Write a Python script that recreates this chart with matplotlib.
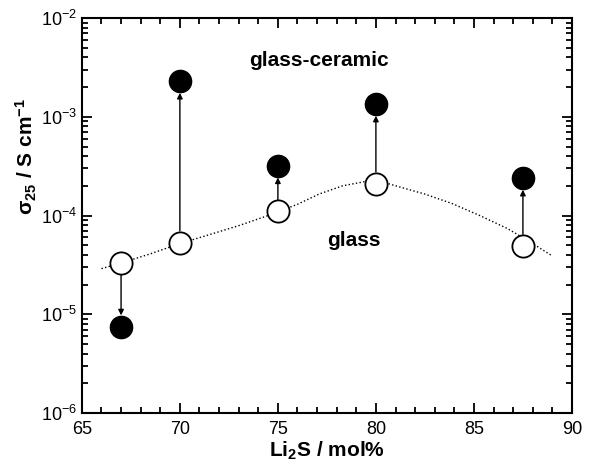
import numpy as np
import matplotlib
matplotlib.use("Agg")
from matplotlib import pyplot as plt
from matplotlib.ticker import MultipleLocator, LogLocator, NullFormatter

plt.rcParams['font.family'] = ['Liberation Sans', 'DejaVu Sans']
plt.rcParams['mathtext.default'] = 'regular'

# Li2S content (mol%)
li2s = [67, 70, 75, 80, 87.5]
# conductivity at 25 C, S/cm
sigma_glass = [3.3e-5, 5.3e-5, 1.1e-4, 2.1e-4, 4.9e-5]
sigma_gc = [7.4e-6, 2.3e-3, 3.2e-4, 1.35e-3, 2.4e-4]

# dotted guide curve through the glass data
curve_x = [66.0, 67.0, 68.5, 70.0, 71.5, 73.0, 74.5, 76.0, 77.1, 78.3, 79.4,
           80.3, 81.2, 82.5, 83.9, 85.3, 86.7, 87.8, 89.0]
curve_y = [2.9e-5, 3.3e-5, 4.1e-5, 5.2e-5, 6.4e-5, 7.9e-5, 1.0e-4, 1.3e-4,
           1.65e-4, 2.0e-4, 2.2e-4, 2.2e-4, 1.95e-4, 1.65e-4, 1.32e-4,
           1.0e-4, 7.4e-5, 5.5e-5, 3.9e-5]

fig = plt.figure(figsize=(5.89, 4.66), dpi=100)
ax = fig.add_axes([0.139, 0.1137, 0.832, 0.8475])

ax.plot(curve_x, curve_y, ':', color='black', lw=1.0, zorder=1)

for x, g, c in zip(li2s, sigma_glass, sigma_gc):
    ax.annotate('', xy=(x, c), xytext=(x, g),
                arrowprops=dict(arrowstyle='-|>', color='black', lw=1.0,
                                mutation_scale=8, shrinkA=8.5, shrinkB=8.5),
                zorder=2)

ax.plot(li2s, sigma_glass, 'o', ms=16, mfc='white', mec='black', mew=1.3, zorder=3)
ax.plot(li2s, sigma_gc, 'o', ms=16, mfc='black', mec='black', zorder=3)

ax.text(77.1, 3.7e-3, 'glass-ceramic', fontsize=15, fontweight='bold',
        ha='center', va='center')
ax.text(78.9, 5.6e-5, 'glass', fontsize=15, fontweight='bold',
        ha='center', va='center')

ax.set_yscale('log')
ax.set_xlim(65, 90)
ax.set_ylim(1e-6, 1e-2)
ax.xaxis.set_major_locator(MultipleLocator(5))
ax.xaxis.set_minor_locator(MultipleLocator(1))
ax.yaxis.set_major_locator(LogLocator(base=10, numticks=10))
ax.yaxis.set_minor_locator(LogLocator(base=10, subs=np.arange(2, 10), numticks=20))
ax.yaxis.set_minor_formatter(NullFormatter())

ax.tick_params(which='both', direction='in', top=True, right=True,
               labelsize=13, width=1.3)
ax.tick_params(which='major', length=7)
ax.tick_params(which='minor', length=4)
ax.tick_params(axis='x', which='major', pad=6)
for s in ax.spines.values():
    s.set_linewidth(1.5)

ax.set_xlabel('Li$_2$S / mol%', fontsize=15, fontweight='bold', labelpad=1)
ax.set_ylabel('σ$_{25}$ / S cm$^{-1}$', fontsize=15, fontweight='bold')
ax.yaxis.set_label_coords(-0.088, 0.65)

fig.savefig('out.png', dpi=100)
